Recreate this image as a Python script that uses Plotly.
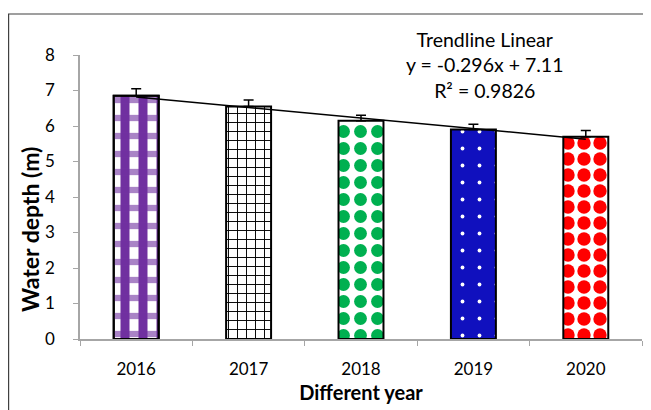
import plotly.graph_objects as go

years = ["2016", "2017", "2018", "2019", "2020"]
depth = [6.85, 6.55, 6.15, 5.90, 5.70]
err_plus = [0.20, 0.18, 0.15, 0.15, 0.17]
trend_slope = -0.296
trend_intercept = 7.11
r_squared = 0.9826

bg_colors = ["#FFFFFF", "#FFFFFF", "#FFFFFF", "#1010BE", "#FFFFFF"]
fg_colors = ["#7030A0", "#000000", "#00B050", "#FFFFFF", "#FF0000"]
pat_shapes = ["|", "+", ".", ".", "."]
pat_size = [18, 9, 17, 17, 16]
pat_solid = [0.5, 0.2, 0.45, 0.04, 0.55]
# second pattern layer (horizontal half-tone bands on the 2016 bar)
over_shapes = ["-", None, None, None, None]
over_colors = ["rgba(112,48,160,0.6)", None, None, None, None]

fig = go.Figure()
for i, yr in enumerate(years):
    fig.add_trace(go.Bar(
        x=[yr], y=[depth[i]], width=0.4,
        marker=dict(color=bg_colors[i],
                    line=dict(color="black", width=2),
                    pattern=dict(shape=pat_shapes[i], fgcolor=fg_colors[i],
                                 bgcolor=bg_colors[i], size=pat_size[i],
                                 solidity=pat_solid[i], fillmode="replace")),
        error_y=dict(type="data", symmetric=False, array=[err_plus[i]],
                     arrayminus=[0], color="black", thickness=1.5, width=5),
        showlegend=False,
    ))
    if over_shapes[i]:
        fig.add_trace(go.Bar(
            x=[yr], y=[depth[i]], width=0.4,
            marker=dict(color="rgba(0,0,0,0)",
                        line=dict(color="black", width=2),
                        pattern=dict(shape=over_shapes[i], fgcolor=over_colors[i],
                                     bgcolor="rgba(0,0,0,0)", size=pat_size[i],
                                     solidity=0.35, fillmode="replace")),
            showlegend=False, hoverinfo="skip",
        ))

tx = [1, len(years)]
fig.add_trace(go.Scatter(
    x=[years[0], years[-1]],
    y=[trend_slope * t + trend_intercept for t in tx],
    mode="lines", line=dict(color="black", width=1.5), showlegend=False,
))

fig.add_annotation(
    xref="paper", yref="paper", x=0.72, y=0.965, xanchor="center", yanchor="middle",
    text=f"Trendline Linear<br>y = {trend_slope}x + {trend_intercept}<br>R² = {r_squared}",
    showarrow=False, font=dict(size=19.5, color="black", family="Lato"), align="center",
)

# y-axis title, placed as in the original (below the plot-area centre)
fig.add_annotation(
    xref="paper", yref="paper", x=-0.089, y=0.387, xanchor="center", yanchor="middle",
    text="<b>Water depth (m)</b>", textangle=-90, showarrow=False,
    font=dict(size=23, color="black", family="Lato"),
)

# outer frame of the chart
fig.add_shape(type="rect", xref="paper", yref="paper",
              x0=(0.6 - 72) / 562, x1=(700 - 72) / 562,
              y0=(331 - 460) / 284, y1=(331 - 6) / 284,
              line=dict(color="#404040", width=1.2), fillcolor="rgba(0,0,0,0)", layer="below")

fig.update_layout(
    width=643, height=402,
    margin=dict(l=72, r=9, t=47, b=71),
    paper_bgcolor="white", plot_bgcolor="white",
    font=dict(family="Lato", size=17, color="black"),
    barmode="overlay",
)
fig.update_xaxes(
    type="category", showline=True, linecolor="#A6A6A6", linewidth=1.5,
    ticks="outside", tickson="boundaries", ticklen=5, tickcolor="#A6A6A6",
    showgrid=False, ticklabelstandoff=14,
    title=dict(text="<b>Different year</b>", font=dict(size=20), standoff=8),
)
fig.update_yaxes(
    range=[0, 8], dtick=1, showline=True, linecolor="#A6A6A6", linewidth=1.5,
    ticks="outside", ticklen=5, tickcolor="#A6A6A6", showgrid=False, zeroline=False,
    ticklabelstandoff=15,
)

fig.write_html("out.html")
